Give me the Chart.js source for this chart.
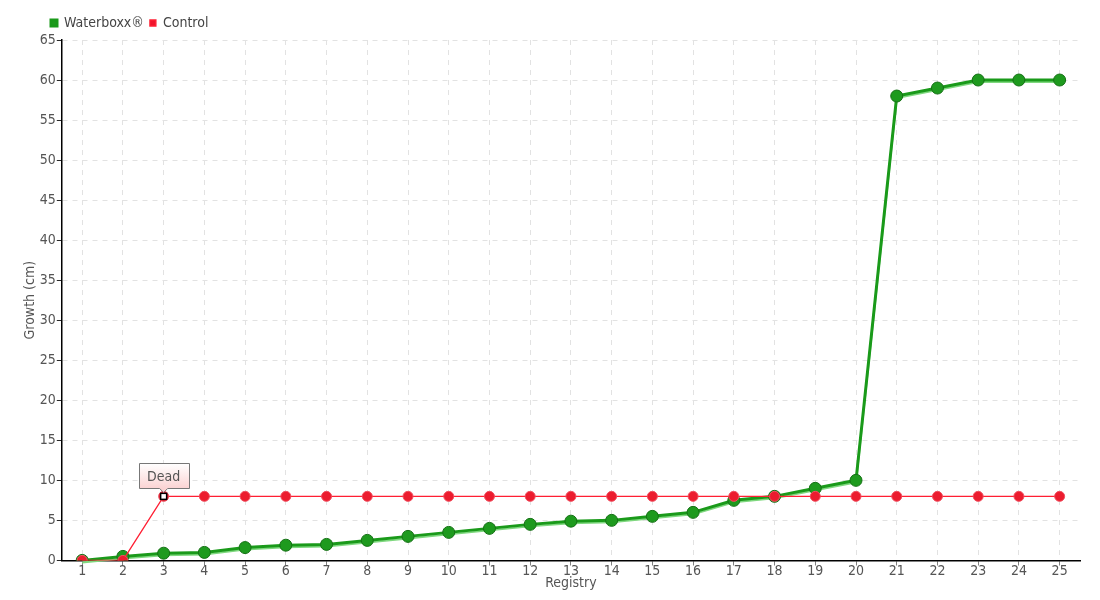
<!DOCTYPE html>
<html>
<head>
<meta charset="utf-8">
<script src="https://cdn.jsdelivr.net/npm/chart.js@4/dist/chart.umd.min.js"></script>
<style>
  body { margin: 0; background: #fff; }
  #wrap { width: 1100px; height: 600px; }
</style>
</head>
<body>
<div id="wrap"><canvas id="growthChart"></canvas></div>
<script>
const registry = ["1", "2", "3", "4", "5", "6", "7", "8", "9", "10", "11", "12", "13",
  "14", "15", "16", "17", "18", "19", "20", "21", "22", "23", "24", "25"];
const waterboxx = [0, 0.5, 0.9, 1, 1.6, 1.9, 2, 2.5, 3, 3.5, 4, 4.5, 4.9, 5, 5.5, 6,
  7.5, 8, 9, 10, 58, 59, 60, 60, 60];
const control = [0, 0, 8, 8, 8, 8, 8, 8, 8, 8, 8, 8, 8, 8, 8, 8, 8, 8, 8, 8, 8, 8, 8, 8, 8];
const deadIndex = 2;
const deadLabel = "Dead";

const fontFamily = "'DejaVu Sans Condensed', 'DejaVu Sans', sans-serif";
Chart.defaults.font.family = fontFamily;
Chart.defaults.font.size = 14;
Chart.defaults.color = "#555";

// light green offset stroke under the waterboxx line
const lineShadow = {
  id: "lineShadow",
  beforeDatasetDraw(chart, args) {
    if (args.index !== 0) return;
    const pts = args.meta.data;
    const ctx = chart.ctx;
    ctx.save();
    ctx.strokeStyle = "#7fd87f";
    ctx.lineWidth = 2;
    ctx.beginPath();
    pts.forEach((p, i) => {
      if (i === 0) ctx.moveTo(p.x, p.y + 2);
      else ctx.lineTo(p.x, p.y + 2);
    });
    ctx.stroke();
    ctx.restore();
  }
};

// "Dead" callout on the control series
const deadNote = {
  id: "deadNote",
  afterDatasetsDraw(chart) {
    const p = chart.getDatasetMeta(1).data[deadIndex];
    const ctx = chart.ctx;
    ctx.save();
    ctx.fillStyle = "#fff";
    ctx.strokeStyle = "#000";
    ctx.lineWidth = 1.5;
    ctx.fillRect(p.x - 3, p.y - 3, 6, 6);
    ctx.strokeRect(p.x - 3, p.y - 3, 6, 6);

    const w = 50, h = 25, bottom = p.y - 8;
    const left = Math.round(p.x - w / 2) + 0.5, top = Math.round(bottom - h) + 0.5;
    const grad = ctx.createLinearGradient(0, top, 0, top + h);
    grad.addColorStop(0, "#ffffff");
    grad.addColorStop(1, "#fbd3d3");
    ctx.beginPath();
    ctx.moveTo(left, top);
    ctx.lineTo(left + w, top);
    ctx.lineTo(left + w, top + h);
    ctx.lineTo(p.x + 4, top + h);
    ctx.lineTo(p.x, top + h + 4);
    ctx.lineTo(p.x - 4, top + h);
    ctx.lineTo(left, top + h);
    ctx.closePath();
    ctx.fillStyle = grad;
    ctx.fill();
    ctx.strokeStyle = "#777";
    ctx.lineWidth = 1;
    ctx.stroke();
    ctx.fillStyle = "#555";
    ctx.font = "14px " + fontFamily;
    ctx.textAlign = "center";
    ctx.textBaseline = "middle";
    ctx.fillText(deadLabel, p.x, top + h / 2 + 1);
    ctx.restore();
  }
};

// nudge the legend to the right, over the y axis
const legendShift = {
  id: "legendShift",
  afterLayout(chart) {
    chart.legend.left += 23;
  }
};

new Chart(document.getElementById("growthChart"), {
  type: "line",
  data: {
    labels: registry,
    datasets: [{
      label: "Waterboxx®",
      data: waterboxx,
      order: 1,
      borderColor: "#1a9a1a",
      backgroundColor: "#1e9a1e",
      pointBackgroundColor: "#1e9a1e",
      pointBorderColor: "#157015",
      pointBorderWidth: 1,
      borderWidth: 3,
      pointRadius: 6,
      tension: 0
    }, {
      label: "Control",
      data: control,
      order: 0,
      borderColor: "#ff1f33",
      backgroundColor: "#f0142c",
      pointBackgroundColor: "#ec1c2e",
      pointBorderColor: "#f05060",
      pointBorderWidth: 1,
      borderWidth: 1.3,
      pointRadius: 5,
      tension: 0
    }]
  },
  options: {
    responsive: true,
    maintainAspectRatio: false,
    animation: false,
    layout: { padding: { left: 22, right: 20, top: 10, bottom: 8 } },
    plugins: {
      legend: {
        align: "start",
        labels: {
          boxWidth: 6,
          boxHeight: 6,
          padding: 6,
          color: "#444",
          font: { size: 14 },
          sort: (a, b) => a.datasetIndex - b.datasetIndex
        }
      },
      tooltip: { enabled: false }
    },
    scales: {
      x: {
        offset: true,
        title: { display: true, text: "Registry", color: "#555", padding: { top: -3, bottom: 0 }, font: { size: 14 } },
        border: { color: "#000", width: 1.5, dash: [5, 5] },
        grid: {
          offset: false,
          color: "#e2e2e2",
          tickColor: "#555",
          tickLength: 5,
          tickBorderDash: [1, 0]
        },
        ticks: { color: "#555", padding: -2, font: { size: 14 } }
      },
      y: {
        min: 0,
        max: 65,
        title: { display: true, text: "Growth (cm)", color: "#555", padding: 0, font: { size: 14 } },
        border: { color: "#000", width: 1.5, dash: [5, 5] },
        grid: {
          color: "#e2e2e2",
          tickColor: "#000",
          tickLength: 5,
          tickBorderDash: [1, 0]
        },
        ticks: { stepSize: 5, color: "#555", padding: 1, font: { size: 14 } }
      }
    }
  },
  plugins: [lineShadow, deadNote, legendShift]
});
</script>
</body>
</html>
